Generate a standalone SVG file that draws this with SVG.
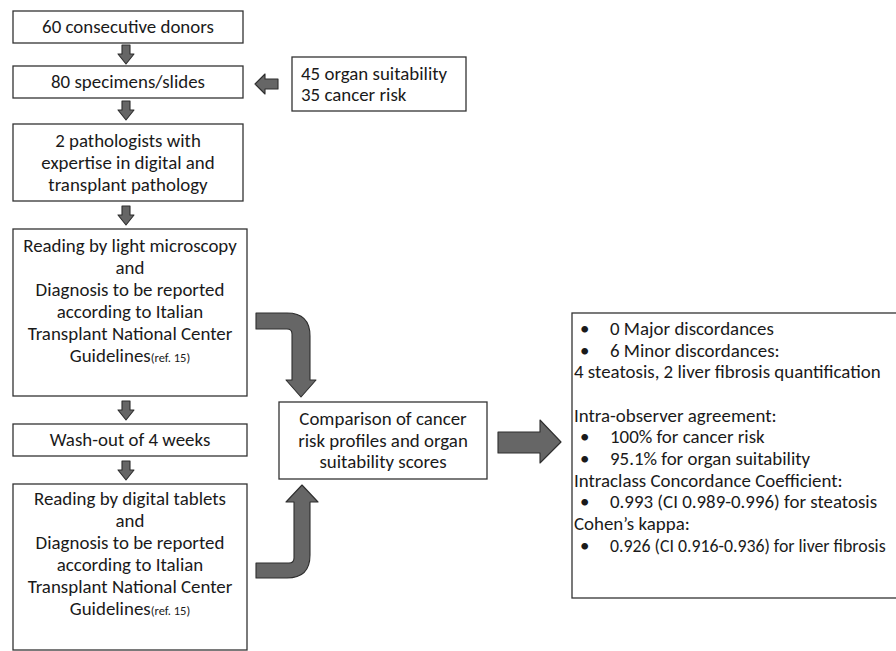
<svg xmlns="http://www.w3.org/2000/svg" xmlns:xlink="http://www.w3.org/1999/xlink" width="896" height="651" viewBox="0 0 896 651">
<style>
.box{fill:#fff;stroke:#333;stroke-width:1.3}
.t{font-family:Carlito,Lato,"Liberation Sans",sans-serif;font-size:18.9px;fill:#1a1a1a}
.c{text-anchor:middle}
.s{font-size:12.5px}
.arr{fill:#666;stroke:#2e2e2e;stroke-width:1.1;stroke-linejoin:round}
</style>
<defs>
<path id="dn" d="M-4,0 H4 V9 H8 L0,19 L-8,9 H-4 Z"/>
</defs>
<rect width="896" height="651" fill="#fff"/>
<g id="connectors">
<use xlink:href="#dn" href="#dn" class="arr" x="126" y="45"/>
<use xlink:href="#dn" href="#dn" class="arr" x="126" y="101"/>
<use xlink:href="#dn" href="#dn" class="arr" x="126" y="206"/>
<use xlink:href="#dn" href="#dn" class="arr" x="126" y="401"/>
<use xlink:href="#dn" href="#dn" class="arr" x="126" y="461"/>
<path class="arr" d="M255,84 L265,74 L265,79 L278,79 L278,89 L265,89 L265,94 Z"/>
<path class="arr" d="M256,313 L287,313 Q310,313 310,336 L310,380 L316,380 L301,397 L286,380 L292,380 L292,334 Q292,329 287,329 L256,329 Z"/>
<path class="arr" d="M302,485 L318,502 L310,502 L310,555 Q310,578 287,578 L256,578 L256,563 L289,563 Q294,563 294,558 L294,502 L286,502 Z"/>
<path class="arr" d="M498,432 L540,432 L540,420 L561,442 L540,463 L540,453 L498,453 Z"/>
</g>
<g id="n1">
<rect class="box" x="13" y="11" width="230" height="32"/>
<text class="t c" x="128" y="33">60 consecutive donors</text>
</g>
<g id="n2">
<rect class="box" x="13" y="66" width="230" height="32"/>
<text class="t c" x="128" y="88">80 specimens/slides</text>
</g>
<g id="n3">
<rect class="box" x="292" y="57" width="174" height="54"/>
<text class="t" x="301" y="80">45 organ suitability</text>
<text class="t" x="301" y="101">35 cancer risk</text>
</g>
<g id="n4">
<rect class="box" x="13" y="124" width="230" height="77"/>
<text class="t c" x="128" y="147">2 pathologists with</text>
<text class="t c" x="128" y="169">expertise in digital and</text>
<text class="t c" x="128" y="191">transplant pathology</text>
</g>
<g id="n5">
<rect class="box" x="13" y="229" width="234" height="167"/>
<text class="t c" x="130" y="252">Reading by light microscopy</text>
<text class="t c" x="130" y="274">and</text>
<text class="t c" x="130" y="296">Diagnosis to be reported</text>
<text class="t c" x="130" y="318">according to Italian</text>
<text class="t c" x="130" y="340">Transplant National Center</text>
<text class="t c" x="130" y="362">Guidelines<tspan class="s">(ref. 15)</tspan></text>
</g>
<g id="n6">
<rect class="box" x="13" y="424" width="234" height="32"/>
<text class="t c" x="130" y="446">Wash-out of 4 weeks</text>
</g>
<g id="n7">
<rect class="box" x="13" y="484" width="234" height="166"/>
<text class="t c" x="130" y="505">Reading by digital tablets</text>
<text class="t c" x="130" y="527">and</text>
<text class="t c" x="130" y="549">Diagnosis to be reported</text>
<text class="t c" x="130" y="571">according to Italian</text>
<text class="t c" x="130" y="593">Transplant National Center</text>
<text class="t c" x="130" y="615">Guidelines<tspan class="s">(ref. 15)</tspan></text>
</g>
<g id="n8">
<rect class="box" x="279" y="402" width="208" height="77"/>
<text class="t c" x="383" y="425">Comparison of cancer</text>
<text class="t c" x="383" y="447">risk profiles and organ</text>
<text class="t c" x="383" y="468">suitability scores</text>
</g>
<g id="n9">
<rect class="box" x="572" y="313" width="340" height="285"/>
<text class="t" x="580" y="335">•</text><text class="t" x="610" y="335">0 Major discordances</text>
<text class="t" x="580" y="357">•</text><text class="t" x="610" y="357">6 Minor discordances:</text>
<text class="t" x="574" y="378">4 steatosis, 2 liver fibrosis quantification</text>
<text class="t" x="574" y="422">Intra-observer agreement:</text>
<text class="t" x="580" y="443">•</text><text class="t" x="610" y="443">100% for cancer risk</text>
<text class="t" x="580" y="465">•</text><text class="t" x="610" y="465">95.1% for organ suitability</text>
<text class="t" x="574" y="487">Intraclass Concordance Coefficient:</text>
<text class="t" x="580" y="508">•</text><text class="t" x="610" y="508">0.993 (CI 0.989-0.996) for steatosis</text>
<text class="t" x="574" y="530">Cohen’s kappa:</text>
<text class="t" x="580" y="552">•</text><text class="t" x="610" y="552" style="font-size:17.8px">0.926 (CI 0.916-0.936) for liver fibrosis</text>
</g>
</svg>
